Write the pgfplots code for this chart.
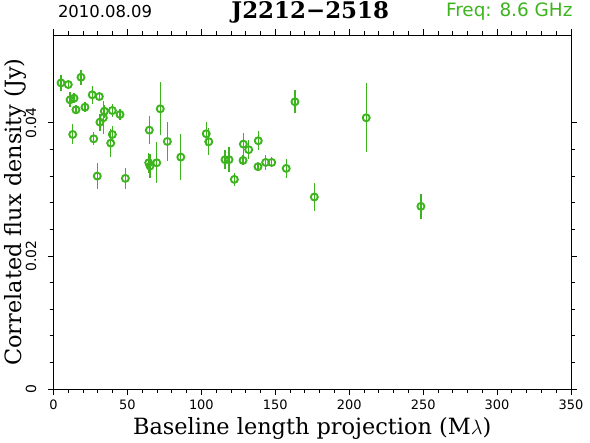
\documentclass[border=0pt]{standalone}
\usepackage{pgfplots}
\pgfplotsset{compat=1.18}
\usepackage{pgfplotstable}
\usepackage{fontspec}
\newfontfamily\dvs{DejaVu Sans}
\newfontfamily\dvserif{DejaVu Serif}
\definecolor{pg}{RGB}{60,180,30}

\pgfplotstableread{
x y e
5.1 0.0460 0.0012
10.0 0.04575 0.0006
18.6 0.04685 0.0011
11.2 0.04346 0.0011
13.9 0.04370 0.00075
15.2 0.04196 0.0007
21.3 0.04235 0.00075
26.2 0.04421 0.00135
31.0 0.04395 0.0004
34.4 0.04175 0.0010
39.8 0.04185 0.0010
45.0 0.04125 0.0009
31.4 0.04010 0.0013
33.7 0.04076 0.0025
13.0 0.03825 0.0015
27.2 0.03760 0.0010
39.8 0.03825 0.0012
38.7 0.03695 0.0021
29.6 0.03200 0.0019
48.6 0.03165 0.0016
64.8 0.03890 0.0021
72.2 0.04211 0.0040
77.0 0.03720 0.0029
64.4 0.03400 0.0015
65.3 0.03350 0.0018
69.8 0.03400 0.0031
86.1 0.03485 0.0034
103.3 0.03836 0.0018
105.0 0.03716 0.0020
116.0 0.03446 0.0014
118.7 0.03446 0.0019
122.3 0.03150 0.0010
128.4 0.03680 0.0017
132.0 0.03596 0.0014
128.2 0.03435 0.00075
138.5 0.03731 0.0014
138.3 0.03341 0.0005
143.5 0.03405 0.0011
147.6 0.03405 0.00075
157.4 0.03315 0.0014
163.3 0.04316 0.0017
176.4 0.02885 0.0021
211.5 0.04076 0.0052
248.5 0.02745 0.0019
}\data

\begin{document}
\begin{tikzpicture}[x=1bp,y=1bp]
\useasboundingbox (0,0) rectangle (590,443);
\begin{axis}[
  at={(53.5bp,54bp)}, anchor=south west,
  scale only axis, width=517.5bp, height=354bp,
  xmin=0, xmax=350, ymin=0, ymax=0.0532,
  xtick={0,50,...,350}, minor x tick num=4,
  ytick={0,0.02,0.04}, minor y tick num=4,
  tick align=outside,
  major tick length=6bp, minor tick length=4bp,
  tick style={black, line width=0.8bp},
  axis line style={line width=0.9bp},
  scaled y ticks=false,
  yticklabel={\pgfmathprintnumber[fixed,precision=2]{\tick}},
  tick label style={font=\dvs\fontsize{13}{14}\selectfont},
  /pgf/number format/assume math mode=true,
  yticklabel style={rotate=90, anchor=south, inner ysep=11bp, font=\dvs\fontsize{14}{15}\selectfont},
  xticklabel style={yshift=-1bp},
  xlabel={Baseline length projection (M$\lambda$)},
  ylabel={Correlated flux density (Jy)},
  label style={font=\dvserif\fontsize{22.5}{24}\selectfont},
  xlabel style={at={(axis description cs:0.5,0)}, anchor=center, yshift=-39bp},
  ylabel style={at={(axis description cs:-0.0735,0.5)}, anchor=center},
  clip=false,
]
\addplot[pg, line width=1.2bp, only marks,
  mark=o, mark size=3.5bp, mark options={pg, fill=white, line width=1.9bp},
  error bars/.cd, y dir=both, y explicit, error mark=none,
  error bar style={pg, line width=1.2bp}]
  table[x=x, y=y, y error=e] {\data};
\node[anchor=west, font=\dvs\fontsize{16.5}{18}\selectfont] at (axis description cs:0,1) [yshift=23bp, xshift=1bp] {2010.08.09};
\node[anchor=center, font=\dvserif\bfseries\fontsize{23}{25}\selectfont] at (axis description cs:0.5,1) [yshift=23bp, xshift=-2bp] {J2212−2518};
\node[anchor=east, text=pg, font=\dvs\fontsize{18.5}{20}\selectfont] at (axis description cs:1,1) [yshift=23bp, xshift=5bp] {Freq: 8.6 GHz};
\end{axis}
\end{tikzpicture}
\end{document}
